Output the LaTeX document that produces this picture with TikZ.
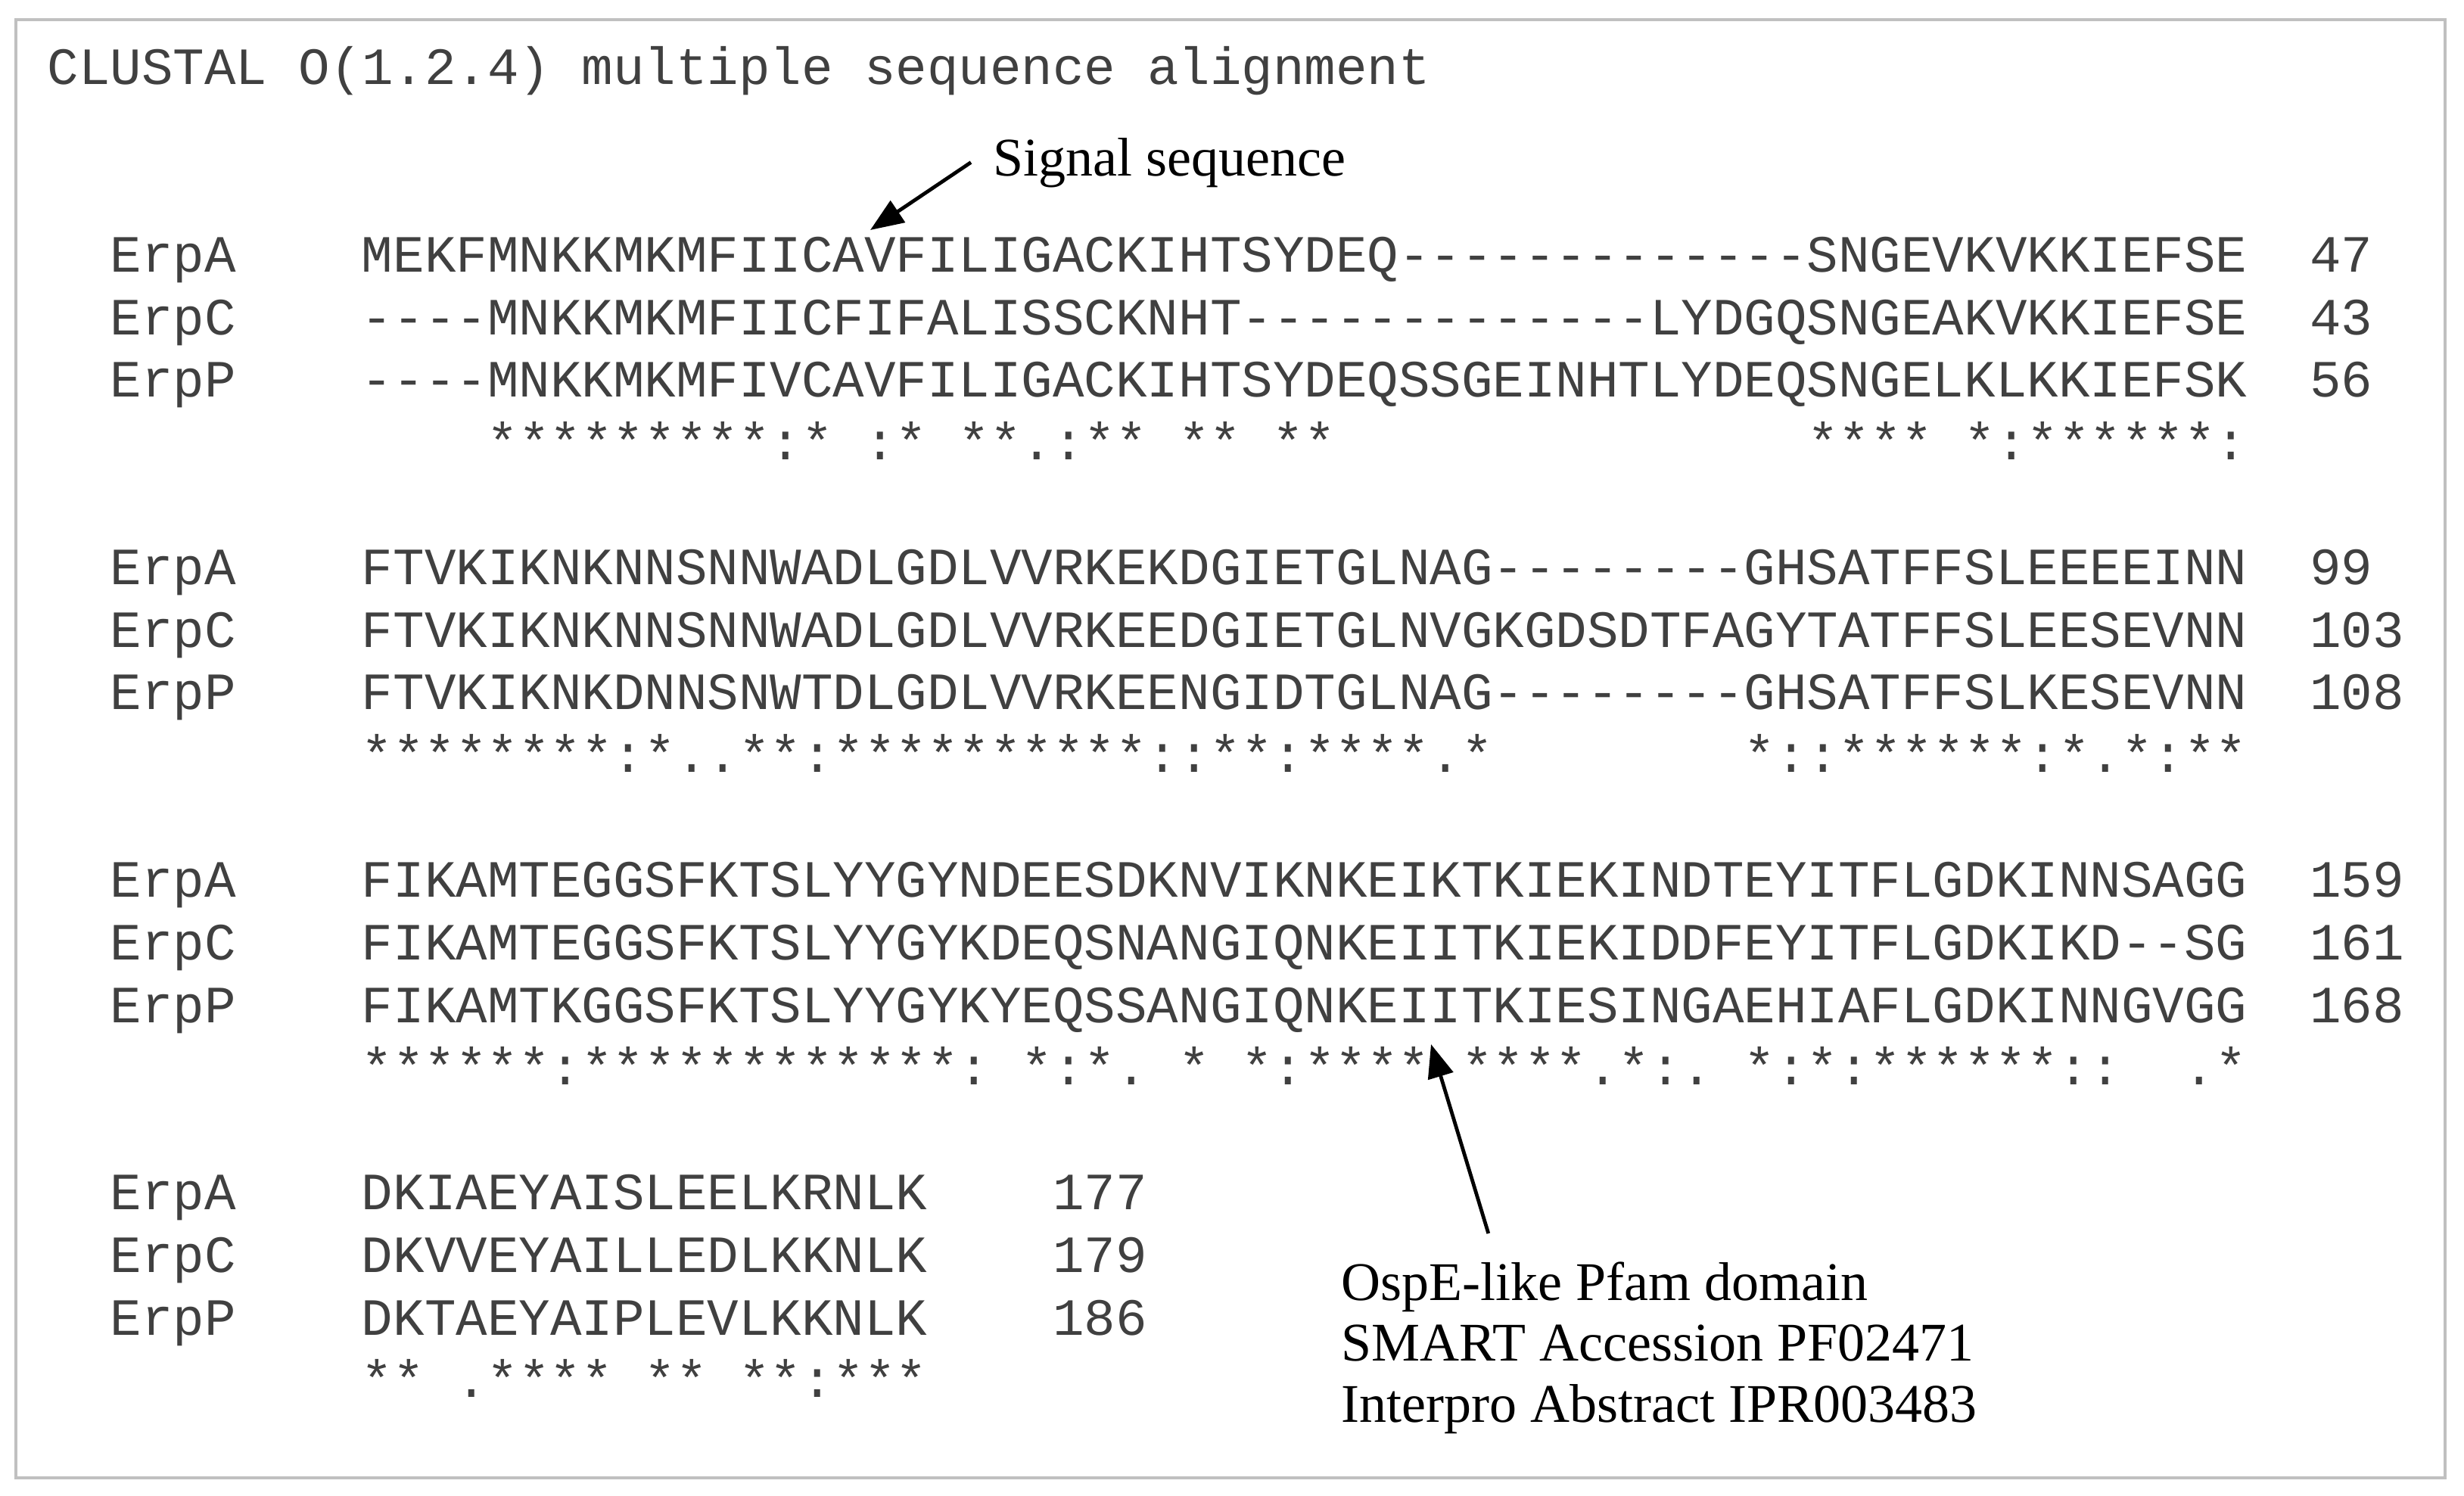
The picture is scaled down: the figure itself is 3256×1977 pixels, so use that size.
\documentclass[tikz,border=0pt]{standalone}
\usepackage{fontspec}
\setmainfont{Liberation Serif}
\setmonofont{Liberation Mono}
\usepackage{tikz}
\usetikzlibrary{arrows.meta}
\definecolor{seqgray}{HTML}{404040}
\definecolor{boxgray}{HTML}{C0C0C0}
\tikzstyle{seqline} = [anchor=base west, inner sep=0pt, text=seqgray,
    font={\ttfamily\fontsize{17.3}{20}\selectfont\frenchspacing}]
\tikzstyle{annot} = [inner sep=0pt, align=left,
    font={\fontsize{18}{20.1}\selectfont}]
\tikzstyle{pointer} = [->, line width=1.2pt, black]

\begin{document}
\begin{tikzpicture}[x=0.25pt, y=-0.25pt, >={Triangle[length=11pt,width=8.5pt]}]

    % page and frame
    \useasboundingbox (0,0) rectangle (3256,1977);
    \draw [boxgray, line width=1pt] (21,26) rectangle (3231,1953);

    \node [seqline] (header) at (62,112) {CLUSTAL O(1.2.4) multiple sequence alignment};

    % first block
    \node [seqline] (a1) at (145,359.8) {ErpA~~~~MEKFMNKKMKMFIICAVFILIGACKIHTSYDEQ-------------SNGEVKVKKIEFSE~~47};
    \node [seqline] (c1) at (145,442.4) {ErpC~~~~----MNKKMKMFIICFIFALISSCKNHT-------------LYDGQSNGEAKVKKIEFSE~~43};
    \node [seqline] (p1) at (145,525) {ErpP~~~~----MNKKMKMFIVCAVFILIGACKIHTSYDEQSSGEINHTLYDEQSNGELKLKKIEFSK~~56};
    \node [seqline] (cons1) at (477,607.6) {~~~~*********:*~:*~**.:**~**~**~~~~~~~~~~~~~~~****~*:******:};

    % second block
    \node [seqline] (a2) at (145,772.8) {ErpA~~~~FTVKIKNKNNSNNWADLGDLVVRKEKDGIETGLNAG--------GHSATFFSLEEEEINN~~99};
    \node [seqline] (c2) at (145,855.4) {ErpC~~~~FTVKIKNKNNSNNWADLGDLVVRKEEDGIETGLNVGKGDSDTFAGYTATFFSLEESEVNN~~103};
    \node [seqline] (p2) at (145,938) {ErpP~~~~FTVKIKNKDNNSNWTDLGDLVVRKEENGIDTGLNAG--------GHSATFFSLKESEVNN~~108};
    \node [seqline] (cons2) at (477,1020.6) {********:*..**:**********::**:****.*~~~~~~~~*::******:*.*:**};

    % third block
    \node [seqline] (a3) at (145,1185.8) {ErpA~~~~FIKAMTEGGSFKTSLYYGYNDEESDKNVIKNKEIKTKIEKINDTEYITFLGDKINNSAGG~~159};
    \node [seqline] (c3) at (145,1268.4) {ErpC~~~~FIKAMTEGGSFKTSLYYGYKDEQSNANGIQNKEIITKIEKIDDFEYITFLGDKIKD--SG~~161};
    \node [seqline] (p3) at (145,1351) {ErpP~~~~FIKAMTKGGSFKTSLYYGYKYEQSSANGIQNKEIITKIESINGAEHIAFLGDKINNGVGG~~168};
    \node [seqline] (cons3) at (477,1433.6) {******:************:~*:*.~*~*:****~****.*:.~*:*:******::~~.*};

    % last block
    \node [seqline] (a4) at (145,1598.8) {ErpA~~~~DKIAEYAISLEELKRNLK~~~~177};
    \node [seqline] (c4) at (145,1681.4) {ErpC~~~~DKVVEYAILLEDLKKNLK~~~~179};
    \node [seqline] (p4) at (145,1764) {ErpP~~~~DKTAEYAIPLEVLKKNLK~~~~186};
    \node [seqline] (cons4) at (477,1846.6) {**~.****~**~**:***};

    % labels and their arrows
    \node [annot, anchor=base west] (signal) at (1312,233) {Signal sequence};
    \node [annot, anchor=north west] (domain) at (1772,1667)
        {OspE-like Pfam domain\\SMART Accession PF02471\\Interpro Abstract IPR003483};
    \coordinate (sigtip) at (1150,304);
    \coordinate (domaintip) at (1891,1380);
    \draw [pointer] ([xshift=-7.25pt,yshift=0.3pt]signal.west) -- (sigtip);
    \draw [pointer] ([xshift=48.7pt,yshift=9.25pt]domain.north west) -- (domaintip);

\end{tikzpicture}
\end{document}
